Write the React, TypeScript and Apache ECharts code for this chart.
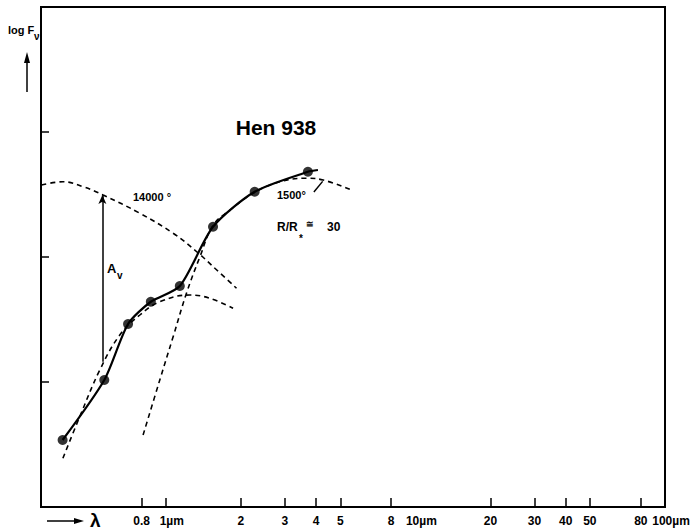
import React, { useEffect, useRef } from "react";
import * as echarts from "echarts";

// Observed photometry (wavelength in µm, log F_nu in arbitrary units)
const obsLambda = [0.386, 0.567, 0.706, 0.871, 1.138, 1.546, 2.27, 3.71];
const obsFlux = [0.536, 1.016, 1.464, 1.642, 1.768, 2.242, 2.522, 2.682];
const obsTailLambda = [4.07];
const obsTailFlux = [2.696];

// 14000 K blackbody (unreddened)
const bb14000Lambda = [0.318, 0.387, 0.467, 0.561, 0.787, 1.07, 1.33, 1.6, 1.92];
const bb14000Flux = [2.576, 2.602, 2.562, 2.496, 2.35, 2.19, 2.042, 1.896, 1.75];

// 14000 K blackbody reddened by A_v
const redLambda = [0.387, 0.452, 0.544, 0.654, 0.787, 0.946, 1.248, 1.5, 1.86];
const redFlux = [0.39, 0.722, 1.096, 1.376, 1.536, 1.642, 1.696, 1.67, 1.59];

// 1500 K blackbody
const bb1500Lambda = [0.811, 0.946, 1.07, 1.21, 1.37, 1.55, 1.81, 2.24, 2.86, 3.66, 4.27, 5.46];
const bb1500Flux = [0.576, 1.016, 1.362, 1.71, 2.002, 2.256, 2.376, 2.51, 2.602, 2.63, 2.616, 2.542];

// label pointer for 1500°
const pointerLambda = [3.92, 4.25];
const pointerFlux = [2.52, 2.605];

// A_v arrow
const avLambda = 0.557;
const avFrom = 1.162;
const avTo = 2.496;

// axis ticks
const tickLambda = [0.8, 1, 2, 3, 4, 5, 8, 20, 30, 40, 50, 80, 100];
const numLabelLambda = [0.8, 2, 3, 4, 5, 8, 20, 30, 40, 50, 80];
const numLabels = ["0.8", "2", "3", "4", "5", "8", "20", "30", "40", "50", "80"];
const unitLabelLambda = [1, 10, 100];
const unitLabels = ["1µm", "10µm", "100µm"];
const yTicks = [1, 2, 3];

const FONT = "'Liberation Sans', Arial, sans-serif";
const lg = (v: number) => Math.log10(v);
const zip = (xs: number[], ys: number[]) => xs.map((x, i) => [lg(x), ys[i]]);

function findLabel(v: number, lams: number[], labels: string[]) {
  let best = 0;
  let d = Infinity;
  lams.forEach((l, i) => {
    const dd = Math.abs(lg(l) - v);
    if (dd < d) {
      d = dd;
      best = i;
    }
  });
  return labels[best];
}

export default function App() {
  const ref = useRef<HTMLDivElement>(null);
  useEffect(() => {
    if (!ref.current) return;
    const chart = echarts.init(ref.current, undefined, { renderer: "svg" });
    const dashed = (data: number[][]) => ({
      type: "line",
      data,
      smooth: 0.4,
      symbol: "none",
      lineStyle: { color: "#000", width: 1.6, type: [5, 4] },
      z: 2,
    });
    const labelText = {
      color: "#000",
      fontFamily: FONT,
      fontWeight: "bold",
      fontSize: 12,
    };
    const option: any = {
      animation: false,
      backgroundColor: "#fff",
      grid: {
        left: 41,
        top: 7,
        right: 31,
        bottom: 23,
        show: true,
        borderColor: "#000",
        borderWidth: 2,
        backgroundColor: "transparent",
      },
      xAxis: [
        {
          type: "value",
          min: -0.5,
          max: 2,
          position: "bottom",
          axisLine: { show: true, onZero: false, lineStyle: { color: "#000", width: 2 } },
          axisTick: {
            show: true,
            inside: true,
            length: 9,
            customValues: tickLambda.map(lg),
            lineStyle: { color: "#000", width: 1.5 },
          },
          axisLabel: {
            show: true,
            customValues: numLabelLambda.map(lg),
            formatter: (v: number) => findLabel(v, numLabelLambda, numLabels),
            ...labelText,
            margin: 8,
          },
          splitLine: { show: false },
        },
        {
          type: "value",
          min: -0.5,
          max: 2,
          position: "bottom",
          axisLine: { show: false },
          axisTick: { show: false },
          axisLabel: {
            show: true,
            customValues: unitLabelLambda.map(lg),
            formatter: (v: number) => "{s| }{t|" + findLabel(v, unitLabelLambda, unitLabels) + "}",
            ...labelText,
            margin: 8,
            align: "center",
            rich: {
              s: { width: 12, fontSize: 12 },
              t: { ...labelText },
            },
          },
          splitLine: { show: false },
        },
      ],
      yAxis: {
        type: "value",
        min: 0,
        max: 4,
        interval: 1,
        axisLine: { show: true, onZero: false, lineStyle: { color: "#000", width: 2 } },
        axisTick: {
          show: true,
          inside: true,
          length: 8,
          customValues: yTicks,
          lineStyle: { color: "#000", width: 1.5 },
        },
        axisLabel: { show: false },
        splitLine: { show: false },
      },
      series: [
        dashed(zip(bb14000Lambda, bb14000Flux)),
        dashed(zip(redLambda, redFlux)),
        dashed(zip(bb1500Lambda, bb1500Flux)),
        {
          type: "line",
          data: zip(obsLambda.concat(obsTailLambda), obsFlux.concat(obsTailFlux)),
          smooth: 0.25,
          symbol: "none",
          lineStyle: { color: "#000", width: 2.2 },
          z: 3,
        },
        {
          type: "scatter",
          data: zip(obsLambda, obsFlux),
          symbol: "circle",
          symbolSize: 10,
          itemStyle: { color: "#000" },
          z: 4,
        },
        {
          type: "line",
          data: zip(pointerLambda, pointerFlux),
          symbol: "none",
          lineStyle: { color: "#000", width: 1.5 },
          markLine: {
            silent: true,
            symbol: ["none", "arrow"],
            symbolSize: [6, 9],
            label: { show: false },
            lineStyle: { color: "#000", width: 1.5, type: "solid" },
            data: [[{ coord: [lg(avLambda), avFrom] }, { coord: [lg(avLambda), avTo] }]],
          },
          z: 3,
        },
      ],
      graphic: [
        { type: "text", x: 8, y: 30, style: { text: "log F", font: `bold 11px ${FONT}`, fill: "#000", verticalAlign: "middle" } },
        { type: "text", x: 34, y: 36, style: { text: "ν", font: `bold 10px ${FONT}`, fill: "#000", verticalAlign: "middle" } },
        { type: "line", shape: { x1: 27, y1: 92, x2: 27, y2: 60 }, style: { stroke: "#000", lineWidth: 1.5 } },
        { type: "polygon", shape: { points: [[24, 63], [30, 63], [27, 52]] }, style: { fill: "#000" } },
        { type: "line", shape: { x1: 47, y1: 521, x2: 76, y2: 521 }, style: { stroke: "#000", lineWidth: 1.5 } },
        { type: "polygon", shape: { points: [[74, 518], [74, 524], [84, 521]] }, style: { fill: "#000" } },
        { type: "text", x: 90, y: 520, style: { text: "λ", font: `bold 19px ${FONT}`, fill: "#000", verticalAlign: "middle" } },
        { type: "text", x: 276, y: 127, style: { text: "Hen 938", font: `bold 21px ${FONT}`, fill: "#000", align: "center", verticalAlign: "middle" } },
        { type: "text", x: 133, y: 197, style: { text: "14000 °", font: `bold 11px ${FONT}`, fill: "#000", verticalAlign: "middle" } },
        { type: "text", x: 277, y: 195, style: { text: "1500°", font: `bold 11px ${FONT}`, fill: "#000", verticalAlign: "middle" } },
        { type: "text", x: 277, y: 227, style: { text: "R/R", font: `bold 12px ${FONT}`, fill: "#000", verticalAlign: "middle" } },
        { type: "text", x: 299, y: 238, style: { text: "*", font: `bold 10px ${FONT}`, fill: "#000", verticalAlign: "middle" } },
        { type: "text", x: 306, y: 224, style: { text: "≅", font: `bold 9px ${FONT}`, fill: "#000", verticalAlign: "middle" } },
        { type: "text", x: 327, y: 227, style: { text: "30", font: `bold 12px ${FONT}`, fill: "#000", verticalAlign: "middle" } },
        { type: "text", x: 107, y: 268, style: { text: "A", font: `bold 13px ${FONT}`, fill: "#000", verticalAlign: "middle" } },
        { type: "text", x: 117, y: 275, style: { text: "v", font: `bold 10px ${FONT}`, fill: "#000", verticalAlign: "middle" } },
      ],
    };
    chart.setOption(option);
    return () => chart.dispose();
  }, []);
  return (
    <div
      ref={ref}
      style={{ position: "absolute", left: 0, top: 0, width: 696, height: 530, background: "#fff" }}
    />
  );
}
